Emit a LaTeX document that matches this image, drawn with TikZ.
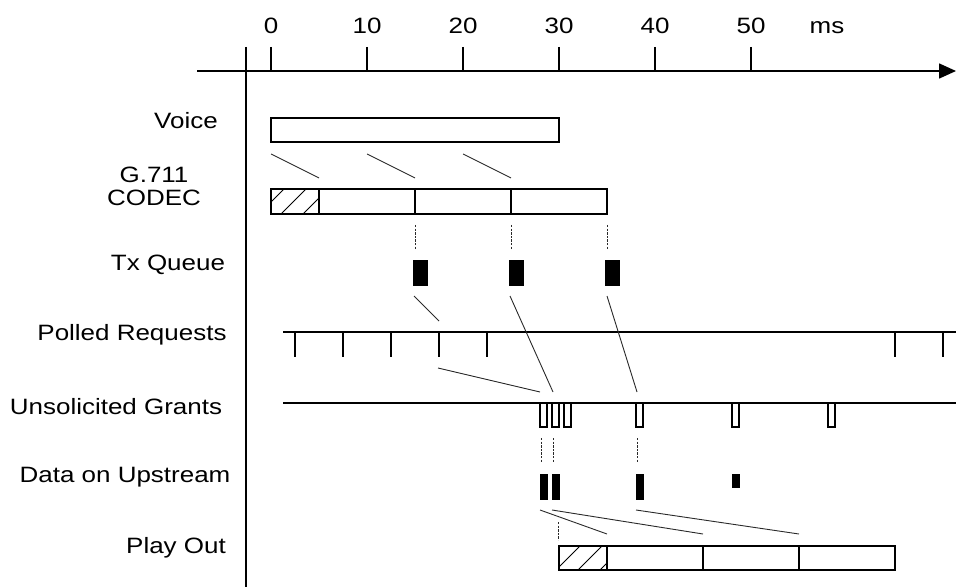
\documentclass[tikz,border=0pt]{standalone}
\usepackage{fontspec}
\setmainfont{Liberation Sans}
\usepackage{graphicx}
\usepackage{tikz}
\usetikzlibrary{arrows.meta,positioning,calc}
\definecolor{ink}{HTML}{000000}
\definecolor{inkgray}{HTML}{2A2A2A}
\newcommand{\widetxt}[1]{\scalebox{1.17}[1]{#1}}
\tikzset{
  lanelabel/.style={font=\fontsize{11.1}{11.5}\selectfont,align=center,inner sep=0pt},
  slot/.style={draw=ink,fill=white,line width=1pt,anchor=north west,
               inner sep=0pt,outer sep=0pt,minimum height=12pt},
  packet/.style={draw=ink,fill=ink,line width=0.4pt,anchor=north west,
                 inner sep=0pt,outer sep=0pt,minimum height=12.5pt},
  grantbox/.style={slot,line width=0.8pt,minimum width=3.5pt},
  guide/.style={draw=inkgray,line width=0.45pt},
  dropline/.style={draw=inkgray,line width=0.4pt,dash pattern=on 1.2pt off 0.6pt},
  hatch/.style={draw=ink,line width=0.45pt},
  axisline/.style={draw=ink,line width=0.75pt},
  axisarr/.style={-{Triangle[length=8.5pt,width=7.5pt]},line width=0.75pt}
}

\begin{document}
\begin{tikzpicture}[x=0.5pt,y=-0.5pt]
  \useasboundingbox (0,0) rectangle (956,587);

  % time axis
  \draw[axisarr] (197,71) -- (956,71);
  \draw[line width=0.55pt] (246,47) -- (246,517);
  \draw[line width=1.1pt] (246,517) -- (246,587);
  \foreach \t in {0,10,...,50}{
    \draw[axisline] ({271+9.6*\t},47) -- ({271+9.6*\t},71);
    \node[lanelabel,anchor=base] (tick\t) at ({271+9.6*\t},34) {\widetxt{\t}};
  }
  \node[lanelabel,anchor=base] (unit) at (827,34) {\widetxt{ms}};

  % lane names
  \node[lanelabel] (lvoice) at (186,121) {\widetxt{Voice}};
  \node[lanelabel] (lcodec) at (154,186) {\widetxt{G.711}\\\widetxt{CODEC}};
  \node[lanelabel] (ltx) at (168,265) {\widetxt{Tx Queue}};
  \node[lanelabel] (lpoll) at (132,335) {\widetxt{Polled Requests}};
  \node[lanelabel] (lgrant) at (116,407) {\widetxt{Unsolicited Grants}};
  \node[lanelabel] (ldata) at (125,477) {\widetxt{Data on Upstream}};
  \node[lanelabel] (lplay) at (176,548) {\widetxt{Play Out}};

  % voice and codec frames
  \node[slot,minimum width=144pt] (voice) at (271,118) {};
  \node[slot,minimum width=24pt,minimum height=12.5pt] (codec1) at (271,189) {};
  \node[slot,minimum width=48pt,minimum height=12.5pt,right=0pt of codec1] (codec2) {};
  \node[slot,minimum width=48pt,minimum height=12.5pt,right=0pt of codec2] (codec3) {};
  \node[slot,minimum width=48pt,minimum height=12.5pt,right=0pt of codec3] (codec4) {};
  \begin{scope}
    \clip (codec1.south west) rectangle (codec1.north east);
    \foreach \h in {259,281,303} \draw[hatch] (\h,214) -- ++(25,-25);
  \end{scope}
  \draw[guide] ($(voice.south west)+(0,12)$) -- ($(codec2.north west)+(0,-11)$);
  \draw[guide] ($(voice.south west)+(96,12)$) -- ($(codec3.north west)+(0,-11)$);
  \draw[guide] ($(voice.south west)+(192,12)$) -- ($(codec4.north west)+(0,-11)$);

  % transmit queue
  \node[packet,minimum width=7pt] (tx1) at (413,260) {};
  \node[packet,minimum width=7pt] (tx2) at (509,260) {};
  \node[packet,minimum width=7pt] (tx3) at (605,260) {};
  \draw[dropline] ($(codec3.south west)+(0,11)$) -- ($(tx1.north west)+(2,-11)$);
  \draw[dropline] ($(codec4.south west)+(0,11)$) -- ($(tx2.north west)+(2,-11)$);
  \draw[dropline] ($(codec4.south east)+(0,11)$) -- ($(tx3.north west)+(2,-11)$);

  % polled requests
  \draw[axisline] (283,332) -- (956,332);
  \foreach \i/\x in {1/295,2/343,3/391,4/439,5/487,6/895,7/943}{
    \draw[axisline] (\x,332) -- (\x,357);
    \coordinate (poll\i) at (\x,357);
  }

  % unsolicited grants
  \draw[axisline] (283,403) -- (956,403);
  \foreach \i/\x in {1/540,2/552,3/564,4/636,5/732,6/828}
    \node[grantbox] (grant\i) at (\x,403) {};
  \draw[guide] ($(tx1.south west)+(1,11)$) -- ($(poll4)+(0,-36)$);
  \draw[guide] ($(poll4)+(-1,11)$) -- ($(grant1.north west)+(0,-11)$);
  \draw[guide] ($(tx2.south west)+(1,11)$) -- ($(grant2.north west)+(1,-11)$);
  \draw[guide] ($(tx3.south west)+(2,11)$) -- ($(grant4.north west)+(1,-11)$);

  % data on upstream
  \node[packet,minimum width=3.5pt] (data1) at (540,474) {};
  \node[packet,minimum width=3.5pt] (data2) at (552,474) {};
  \node[packet,minimum width=3.5pt] (data3) at (636,474) {};
  \node[packet,minimum width=3.5pt,minimum height=6.5pt] (data4) at (732,474) {};
  \draw[dropline] ($(grant1.south west)+(1,11)$) -- ($(data1.north west)+(1,-11)$);
  \draw[dropline] ($(grant2.south west)+(1,11)$) -- ($(data2.north west)+(1,-11)$);
  \draw[dropline] ($(grant4.south west)+(1,11)$) -- ($(data3.north west)+(1,-11)$);

  % play out
  \node[slot,minimum width=24pt] (play1) at (559,546) {};
  \node[slot,minimum width=48pt,right=0pt of play1] (play2) {};
  \node[slot,minimum width=48pt,right=0pt of play2] (play3) {};
  \node[slot,minimum width=48pt,right=0pt of play3] (play4) {};
  \begin{scope}
    \clip (play1.south west) rectangle (play1.north east);
    \foreach \h in {556,578,600} \draw[hatch] (\h,570) -- ++(24,-24);
  \end{scope}
  \draw[guide] ($(data1.south west)+(0,11)$) -- ($(play2.north west)+(0,-12)$);
  \draw[guide] ($(data2.south west)+(0,11)$) -- ($(play3.north west)+(0,-12)$);
  \draw[guide] ($(data3.south west)+(0,11)$) -- ($(play4.north west)+(0,-12)$);
  \draw[dropline] ($(play1.north west)+(-1,-24)$) -- ($(play1.north west)+(-1,-6)$);
\end{tikzpicture}
\end{document}
